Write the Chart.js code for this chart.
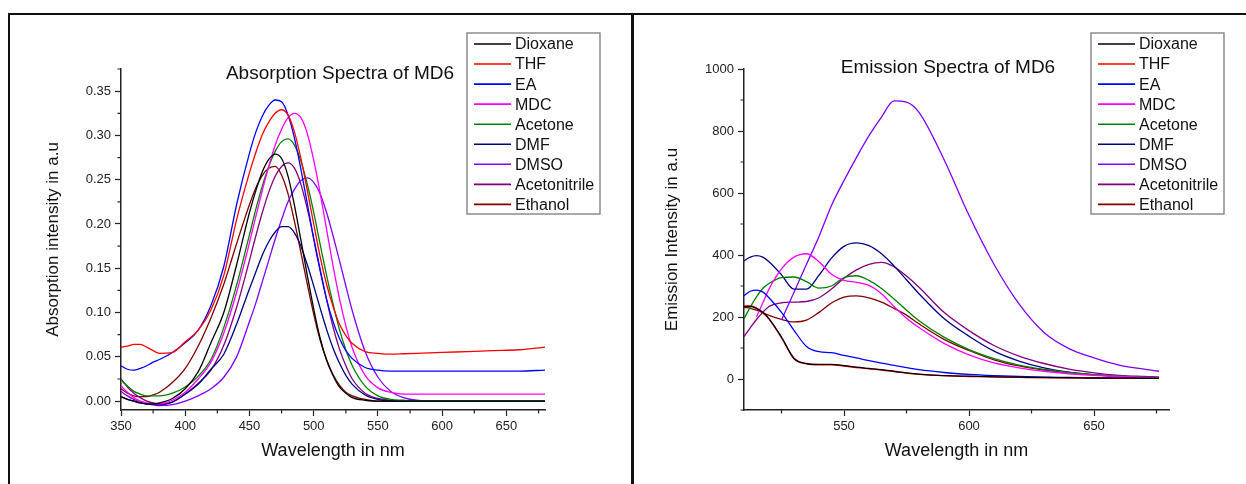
<!DOCTYPE html>
<html>
<head>
<meta charset="utf-8">
<script src="https://cdn.jsdelivr.net/npm/chart.js@4.4.0/dist/chart.umd.min.js"></script>
<style>
  body { margin: 0; background: #fff; width: 1246px; height: 484px; position: relative; overflow: hidden; }
  canvas { position: absolute; top: 0; }
  .rule { position: absolute; background: #111; z-index: 5; }
</style>
</head>
<body>
<div class="rule" style="left:8px;top:13px;width:1238px;height:1.5px"></div>
<div class="rule" style="left:8px;top:13px;width:1.5px;height:471px"></div>
<div class="rule" style="left:631px;top:13px;width:2.5px;height:471px"></div>
<canvas id="chartAbs" width="632" height="484" style="left:0"></canvas>
<canvas id="chartEm" width="614" height="484" style="left:632px"></canvas>
<script>
// ===== data =====
const solvents = ['Dioxane', 'THF', 'EA', 'MDC', 'Acetone', 'DMF', 'DMSO', 'Acetonitrile', 'Ethanol'];

// absorption (nm / a.u.)
const absWavelength = [350,355,360,365,370,375,380,390,400,410,420,430,440,450,455,460,465,470,475,480,485,490,495,500,505,510,515,520,525,530,540,550,560,570,580,600,620,640,660,680];
const absDioxane = [0.005,0.002,0.000,-0.002,-0.003,-0.003,-0.002,0.003,0.014,0.033,0.066,0.100,0.154,0.213,0.238,0.259,0.273,0.279,0.274,0.254,0.221,0.182,0.142,0.104,0.071,0.046,0.029,0.016,0.009,0.004,0.001,0,0,0,0,0,0,0,0,0];
const absTHF = [0.061,0.062,0.064,0.064,0.061,0.057,0.054,0.055,0.067,0.080,0.103,0.142,0.205,0.258,0.281,0.301,0.315,0.325,0.329,0.323,0.304,0.274,0.238,0.200,0.163,0.132,0.107,0.087,0.074,0.065,0.056,0.054,0.053,0.0535,0.054,0.055,0.056,0.057,0.058,0.061];
const absEA = [0.040,0.036,0.035,0.037,0.040,0.044,0.047,0.055,0.066,0.080,0.108,0.152,0.222,0.280,0.304,0.322,0.334,0.340,0.338,0.323,0.297,0.262,0.223,0.183,0.147,0.115,0.090,0.071,0.057,0.048,0.038,0.035,0.034,0.034,0.034,0.034,0.034,0.034,0.034,0.035];
const absMDC = [0.017,0.010,0.004,0.000,-0.002,-0.003,-0.003,0.001,0.010,0.025,0.044,0.077,0.123,0.179,0.209,0.238,0.265,0.289,0.307,0.320,0.325,0.320,0.302,0.272,0.235,0.194,0.153,0.116,0.085,0.060,0.029,0.015,0.010,0.008,0.008,0.008,0.008,0.008,0.008,0.008];
const absAcetone = [0.024,0.017,0.011,0.008,0.006,0.006,0.006,0.009,0.016,0.028,0.047,0.083,0.131,0.188,0.217,0.243,0.265,0.282,0.293,0.296,0.289,0.271,0.245,0.213,0.177,0.142,0.110,0.081,0.058,0.040,0.017,0.006,0.002,0.001,0,0,0,0,0,0];
const absDMF = [0.005,0.002,0.000,-0.002,-0.003,-0.004,-0.004,-0.001,0.008,0.019,0.036,0.053,0.087,0.127,0.146,0.165,0.180,0.191,0.197,0.197,0.190,0.175,0.154,0.130,0.105,0.081,0.060,0.043,0.029,0.019,0.007,0.002,0,0,0,0,0,0,0,null];
const absDMSO = [0.011,0.006,0.002,-0.001,-0.003,-0.004,-0.005,-0.004,0.000,0.006,0.014,0.027,0.050,0.090,0.111,0.135,0.159,0.183,0.205,0.225,0.239,0.249,0.252,0.247,0.234,0.213,0.187,0.159,0.130,0.102,0.056,0.027,0.011,0.004,0.001,0,0,0,0,0];
const absAcetonitrile = [0.025,0.016,0.009,0.004,0.000,-0.002,-0.003,-0.001,0.008,0.020,0.035,0.063,0.106,0.159,0.187,0.213,0.236,0.254,0.265,0.269,0.263,0.245,0.217,0.184,0.149,0.115,0.084,0.059,0.040,0.025,0.009,0.003,0.001,0,0,0,0,0,0,0];
const absEthanol = [0.014,0.009,0.006,0.005,0.005,0.007,0.010,0.021,0.037,0.062,0.094,0.132,0.178,0.222,0.241,0.255,0.263,0.265,0.255,0.234,0.203,0.168,0.132,0.098,0.069,0.047,0.030,0.018,0.010,0.006,0.002,0,0,0,0,0,0,0,0,0];

// emission (nm / a.u.)
const emWavelength = [510,512.5,515,517.5,520,525,530,535,540,545,550,555,560,565,570,575,580,590,600,610,620,630,640,650,660,670,676];
const emDioxane = [233,234,228,215,195,135,67,50,47,47,43,38,34,30,25,20,16,11,9,7,6,5,4,3,3,2,2];
const emTHF = [236,236,229,214,193,133,65,49,46,46,42,37,33,29,24,19,15,11,8,7,5,4,4,3,2,2,2];
const emEA = [269,283,287,281,262,215,157,105,88,85,76,68,59,51,44,37,30,21,15,11,8,6,5,4,3,2,2];
const emMDC = [null,null,200,245,290,355,393,404,378,338,318,312,302,275,234,196,166,115,78,52,36,25,17,12,8,5,4];
const emAcetone = [194,232,265,292,308,327,329,314,293,300,327,333,318,292,258,222,188,135,95,66,45,31,21,14,9,6,5];
const emDMF = [381,393,398,393,378,336,290,290,335,390,428,439,430,404,365,320,275,195,138,90,58,36,22,13,8,5,4];
const emDMSO = [null,null,null,null,null,190,280,370,460,560,640,715,785,845,897,893,860,708,528,370,242,150,98,68,45,32,25];
const emAcetonitrile = [137,165,192,215,234,246,248,250,262,290,325,352,370,376,362,332,296,215,156,108,74,50,32,20,12,8,6];
const emEthanol = [231,228,222,214,205,192,184,190,215,245,264,268,262,248,228,206,178,128,92,62,42,29,20,13,9,6,5];

// tick marks
const absMinorX = [375,425,475,525,575,625,675];
const absMinorY = [0.025,0.075,0.125,0.175,0.225,0.275,0.325,0.375];
const emMinorX = [525,575,625,675];
const emMinorY = [-100,100,300,500,700,900];

// ===== styles =====
const FONT = "Arial, 'Liberation Sans', sans-serif";
Chart.defaults.font.family = FONT;
Chart.defaults.color = '#222';

const PALETTE = ['#000000', '#ff0000', '#0000ff', '#ff00ff', '#008000', '#000080', '#8000ff', '#800080', '#800000'];

function toPoints(xs, ys) {
  return xs.map((x, i) => ({ x: x, y: ys[i] }));
}

function makeDatasets(xs, seriesList) {
  return seriesList.map((ys, i) => ({
    label: solvents[i],
    data: toPoints(xs, ys),
    borderColor: PALETTE[i],
    borderWidth: 1.3,
    pointRadius: 0,
    cubicInterpolationMode: 'monotone',
    fill: false,
    spanGaps: false,
  }));
}

// title, boxed legend and minor ticks
const panelDecor = {
  id: 'panelDecor',
  afterDraw(chart, args, opts) {
    const { ctx, chartArea, scales } = chart;
    ctx.save();

    ctx.strokeStyle = '#222';
    ctx.lineWidth = 1.2;
    ctx.beginPath();
    opts.minorX.forEach(v => {
      const px = scales.x.getPixelForValue(v);
      ctx.moveTo(px, chartArea.bottom);
      ctx.lineTo(px, chartArea.bottom + 3.5);
    });
    opts.minorY.forEach(v => {
      const py = scales.y.getPixelForValue(v);
      ctx.moveTo(chartArea.left, py);
      ctx.lineTo(chartArea.left - 3.5, py);
    });
    ctx.stroke();

    ctx.fillStyle = '#111';
    ctx.font = '19px ' + FONT;
    ctx.textAlign = 'center';
    ctx.textBaseline = 'middle';
    ctx.fillText(opts.title, opts.titleX, opts.titleY);

    const lg = opts.legend;
    ctx.strokeStyle = '#8c8c8c';
    ctx.lineWidth = 1.5;
    ctx.strokeRect(lg.x, lg.y, lg.w, lg.h);
    ctx.font = '16px ' + FONT;
    ctx.textAlign = 'left';
    chart.data.datasets.forEach((ds, i) => {
      const cy = lg.y + 11 + i * 20.05;
      ctx.strokeStyle = ds.borderColor;
      ctx.lineWidth = 1.6;
      ctx.beginPath();
      ctx.moveTo(lg.x + 7, cy);
      ctx.lineTo(lg.x + 44, cy);
      ctx.stroke();
      ctx.fillStyle = '#111';
      ctx.fillText(ds.label, lg.x + 48, cy + 1);
    });
    ctx.restore();
  }
};

function axisStyle(extra) {
  return Object.assign({
    type: 'linear',
    grid: { drawOnChartArea: false, drawTicks: true, tickLength: 6, color: '#222', tickWidth: 1.2 },
    border: { display: true, color: '#222', width: 1.5 },
  }, extra);
}

// ===== Chart 1: absorption =====
new Chart(document.getElementById('chartAbs'), {
  type: 'line',
  data: {
    datasets: makeDatasets(absWavelength, [absDioxane, absTHF, absEA, absMDC, absAcetone, absDMF, absDMSO, absAcetonitrile, absEthanol])
  },
  options: {
    responsive: false,
    animation: false,
    devicePixelRatio: 1,
    layout: { padding: { left: 36, right: 87, top: 69, bottom: 14 } },
    plugins: {
      legend: { display: false },
      tooltip: { enabled: false },
      panelDecor: {
        title: 'Absorption Spectra of MD6', titleX: 340, titleY: 74,
        legend: { x: 467, y: 33, w: 133, h: 181 },
        minorX: absMinorX, minorY: absMinorY,
      }
    },
    scales: {
      x: axisStyle({
        min: 350, max: 680,
        afterFit: s => { s.height = 60; },
        ticks: { stepSize: 50, includeBounds: false, padding: 3, font: { size: 13 }, maxRotation: 0, callback: v => String(v) },
        title: { display: true, text: 'Wavelength in nm', font: { size: 18 }, color: '#111', padding: { top: 0, bottom: 8 } },
      }),
      y: axisStyle({
        min: -0.01, max: 0.375,
        afterFit: s => { s.width = 85; },
        ticks: { stepSize: 0.05, includeBounds: false, padding: 4, font: { size: 13 }, callback: v => v.toFixed(2) },
        title: { display: true, text: 'Absorption intensity in a.u', font: { size: 17 }, color: '#111', padding: { top: 7, bottom: 0 } },
      }),
    }
  },
  plugins: [panelDecor]
});

// ===== Chart 2: emission =====
new Chart(document.getElementById('chartEm'), {
  type: 'line',
  data: {
    datasets: makeDatasets(emWavelength, [emDioxane, emTHF, emEA, emMDC, emAcetone, emDMF, emDMSO, emAcetonitrile, emEthanol])
  },
  options: {
    responsive: false,
    animation: false,
    devicePixelRatio: 1,
    layout: { padding: { left: 22, right: 77, top: 69, bottom: 14 } },
    plugins: {
      legend: { display: false },
      tooltip: { enabled: false },
      panelDecor: {
        title: 'Emission Spectra of MD6', titleX: 316, titleY: 68,
        legend: { x: 459, y: 33, w: 133, h: 181 },
        minorX: emMinorX, minorY: emMinorY,
      }
    },
    scales: {
      x: axisStyle({
        min: 510, max: 680,
        afterFit: s => { s.height = 60; },
        ticks: { stepSize: 50, includeBounds: false, padding: 3, font: { size: 13 }, maxRotation: 0, callback: v => String(v) },
        title: { display: true, text: 'Wavelength in nm', font: { size: 18 }, color: '#111', padding: { top: 0, bottom: 8 } },
      }),
      y: axisStyle({
        min: -100, max: 1000,
        afterFit: s => { s.width = 90; },
        ticks: { stepSize: 200, includeBounds: false, padding: 4, font: { size: 13 }, callback: v => String(v) },
        title: { display: true, text: 'Emission Intensity in a.u', font: { size: 17 }, color: '#111', padding: { top: 8, bottom: 0 } },
      }),
    }
  },
  plugins: [panelDecor]
});
</script>
</body>
</html>
